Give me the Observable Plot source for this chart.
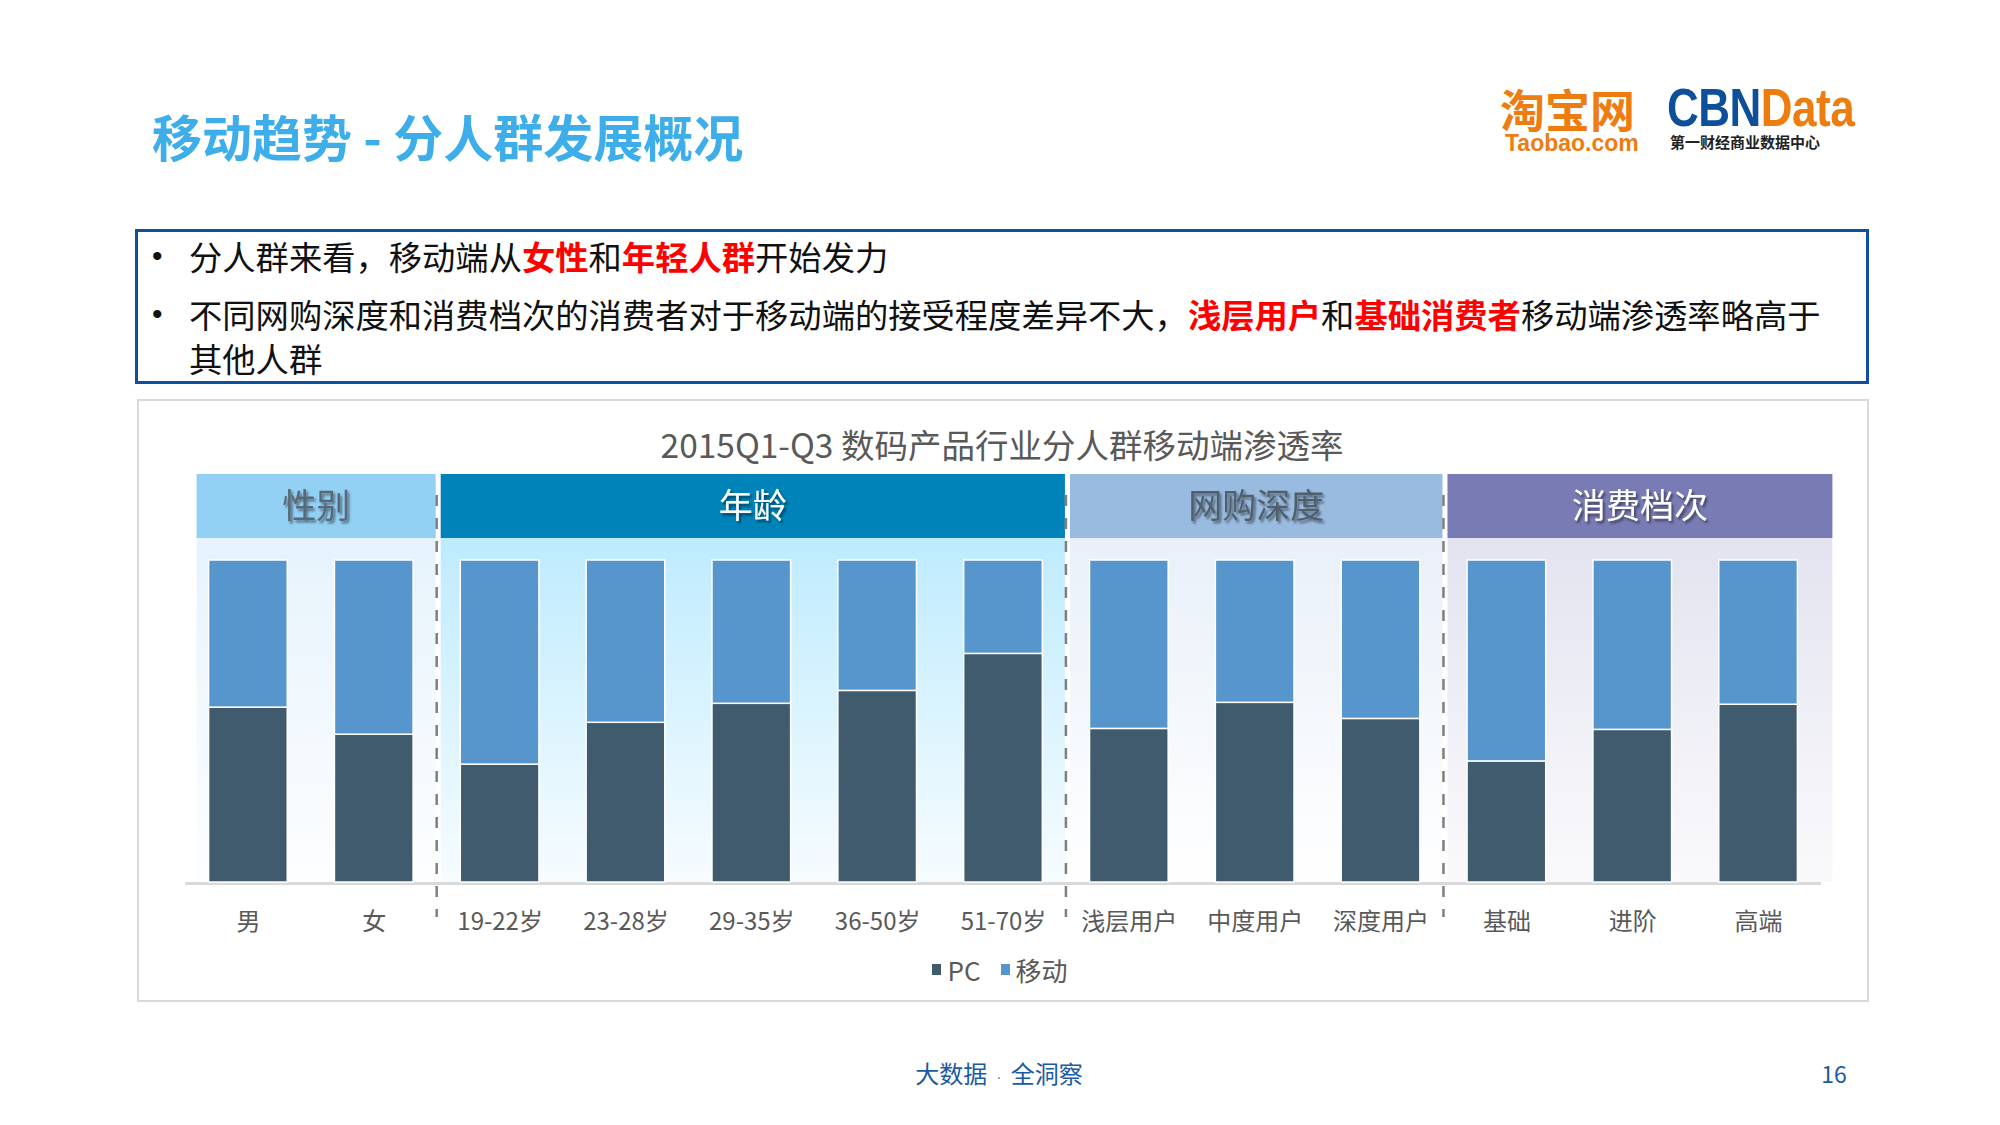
<!DOCTYPE html>
<html>
<head>
<meta charset="utf-8">
<script src="https://cdn.jsdelivr.net/npm/d3@7"></script>
<script src="https://cdn.jsdelivr.net/npm/@observablehq/plot@0.6"></script>
<style>
html,body{margin:0;padding:0;background:#fff;}
body{width:2000px;height:1125px;position:relative;overflow:hidden;font-family:"Noto Sans CJK SC","Noto Sans",sans-serif;}
.abs{position:absolute;white-space:nowrap;}
#title{left:152px;top:103px;font-size:50px;line-height:64px;font-weight:700;color:#3DAEE9;}
#logo1{left:1500px;top:87px;color:#EE7D11;font-weight:700;}
#logo1 .t1{display:block;font-size:45px;line-height:44px;}
#logo1 .t2{display:block;margin-top:2px;margin-left:5px;font-size:23px;line-height:20px;font-family:"Liberation Sans",Arial,sans-serif;}
#logo2{left:1667px;top:88px;font-weight:700;}
#logo2 .c1{display:block;font-size:44px;line-height:40px;font-family:"Liberation Sans",Arial,sans-serif;transform:scaleY(1.2);transform-origin:0 50%;letter-spacing:-0.5px;}
#logo2 .b{color:#0D4F98;} #logo2 .o{color:#EE7D11;}
#logo2 .c2{display:block;margin-top:6px;margin-left:3px;font-size:15px;line-height:16px;color:#222;}
#textbox{left:135px;top:229px;width:1734px;height:155px;border:3px solid #0E509C;box-sizing:border-box;}
.bl{font-size:33.3px;line-height:44px;color:#111;}
.dot{left:152px;font-size:30px;line-height:44px;color:#111;font-family:"Liberation Sans",Arial,sans-serif;}
.r{color:#FF0000;font-weight:700;}
#chartbox{left:137px;top:399px;width:1732px;height:603px;border:2px solid #D9D9D9;box-sizing:border-box;}
#ctitle{left:0;width:2004px;text-align:center;top:422px;font-size:33.5px;line-height:44px;color:#595959;}
#plotwrap{left:0;top:400px;}
#legend{left:0;width:2020px;top:951px;}
#legend *{font-size:26px !important;font-family:"Noto Sans CJK SC","Noto Sans",sans-serif !important;color:#595959 !important;}
#legend div{justify-content:center !important;display:flex !important;align-items:center !important;margin:0 !important;}
#legend svg{margin-right:6px !important;}
#legend span{margin-right:20px !important;display:inline-flex !important;align-items:center !important;}
#footer{left:0;width:1998px;text-align:center;top:1056px;font-size:24px;line-height:34px;color:#1A5BA4;}
#footer .md{font-family:"Liberation Sans",Arial,sans-serif;color:#7F7F7F;font-size:16px;margin:0 9px;}
#page{left:1734px;width:200px;text-align:center;top:1056px;font-size:23px;line-height:34px;color:#1A5BA4;}
</style>
</head>
<body>
<div class="abs" id="title">移动趋势 - 分人群发展概况</div>
<div class="abs" id="logo1"><span class="t1">淘宝网</span><span class="t2">Taobao.com</span></div>
<div class="abs" id="logo2"><span class="c1"><span class="b">CBN</span><span class="o">Data</span></span><span class="c2">第一财经商业数据中心</span></div>

<div class="abs" id="textbox"></div>
<div class="abs dot" style="top:234px;">•</div>
<div class="abs bl" style="left:189px;top:234px;">分人群来看，移动端从<span class="r">女性</span>和<span class="r">年轻人群</span>开始发力</div>
<div class="abs dot" style="top:292px;">•</div>
<div class="abs bl" style="left:189px;top:292px;">不同网购深度和消费档次的消费者对于移动端的接受程度差异不大，<span class="r">浅层用户</span>和<span class="r">基础消费者</span>移动端渗透率略高于</div>
<div class="abs bl" style="left:189px;top:336px;">其他人群</div>

<div class="abs" id="chartbox"></div>
<div class="abs" id="ctitle"></div>
<div class="abs" id="plotwrap"></div>
<div class="abs" id="legend"></div>

<div class="abs" id="footer">大数据<span class="md">·</span>全洞察</div>
<div class="abs" id="page">16</div>

<script>
const FONT = '"Noto Sans CJK SC","Noto Sans",sans-serif';

// ---- data ----
const chartTitle = "2015Q1-Q3 数码产品行业分人群移动端渗透率";
const categories = ["男","女","19-22岁","23-28岁","29-35岁","36-50岁","51-70岁","浅层用户","中度用户","深度用户","基础","进阶","高端"];
const categoryGroup = ["性别","性别","年龄","年龄","年龄","年龄","年龄","网购深度","网购深度","网购深度","消费档次","消费档次","消费档次"];
const groupNames = ["性别","年龄","网购深度","消费档次"];
const seriesNames = ["PC","移动"];
const pcShare     = [54.3,45.9,36.6,49.6,55.5,59.5,71.0,47.7,55.8,50.8,37.6,47.4,55.2];
const mobileShare = [45.7,54.1,63.4,50.4,44.5,40.5,29.0,52.3,44.2,49.2,62.4,52.6,44.8];

// ---- styles ----
const seriesColors = ["#415B6E","#5796CC"];
const headerFill = ["#92D0F4","#0083B8","#9ABBE0","#797CB4"];
const headerText = ["#5A6875","#FFFFFF","#4F5F6C","#FFFFFF"];
const bgTop = ["#E6F3FC","#BEEBFE","#E9F0F9","#E3E3F0"];
const bgBottom = ["#FDFEFF","#F7FCFF","#FFFFFF","#FAFAFC"];

document.getElementById("ctitle").textContent = chartTitle;

const rows = [];
categories.forEach((c,i) => rows.push({category: c, series: seriesNames[0], value: pcShare[i]}));
categories.forEach((c,i) => rows.push({category: c, series: seriesNames[1], value: mobileShare[i]}));

const chart = Plot.plot({
  width: 2000,
  height: 540,
  marginLeft: 185,
  marginRight: 179,
  marginTop: 160,
  marginBottom: 58,
  style: {background: "transparent", fontFamily: FONT, fontSize: "24px", color: "#595959", overflow: "visible"},
  x: {domain: categories, paddingInner: 0.375, paddingOuter: 0.1875, round: false, tickSize: 0, tickPadding: 30, label: null},
  y: {domain: [0, 100], axis: null},
  color: {domain: seriesNames, range: seriesColors},
  marks: [
    Plot.ruleY([0], {stroke: "#D9D9D9", strokeWidth: 3, dy: 1}),
    Plot.barY(rows, {x: "category", y: "value", fill: "series", stroke: "white", strokeWidth: 1.5})
  ]
});
document.getElementById("plotwrap").appendChild(chart);

// ---- decorations positioned through the plot's scales ----
const svgSel = d3.select(chart);
const sx = chart.scale("x"), sy = chart.scale("y");
const X = c => sx.apply(c);
const nCat = categories.length;
const bandStep = X(categories[1]) - X(categories[0]);
const bw = sx.bandwidth != null ? sx.bandwidth : bandStep * 0.625;
const Y = v => sy.apply(v);
const yTop = Y(100), yBase = Y(0);
const headerTop = yTop - 86, headerBottom = yTop - 22;

const seps = [];
for (let i = 1; i < nCat; i++) if (categoryGroup[i] !== categoryGroup[i-1]) seps.push((X(categories[i-1]) + bw + X(categories[i])) / 2);

const spans = groupNames.map((g, k) => {
  const idx = categories.map((c, i) => i).filter(i => categoryGroup[i] === g);
  const f = idx[0], l = idx[idx.length - 1];
  const left = f === 0 ? X(categories[f]) - 12 : seps[k-1] + 4;
  const right = l === nCat - 1 ? X(categories[l]) + bw + 35 : seps[k] - 1;
  return {g, k, left, right};
});

const bgLayer = svgSel.insert("g", ":first-child");
const defs = svgSel.insert("defs", ":first-child");
groupNames.forEach((g, k) => {
  const lg = defs.append("linearGradient").attr("id", "bg" + k).attr("x1", 0).attr("y1", 0).attr("x2", 0).attr("y2", 1);
  lg.append("stop").attr("offset", "0%").attr("stop-color", bgTop[k]);
  lg.append("stop").attr("offset", "100%").attr("stop-color", bgBottom[k]);
});
defs.append("filter").attr("id", "tshadow").attr("x", "-20%").attr("y", "-30%").attr("width", "140%").attr("height", "160%")
  .append("feDropShadow").attr("dx", 2).attr("dy", 2.5).attr("stdDeviation", 1.2).attr("flood-color", "#000").attr("flood-opacity", 0.45);

spans.forEach(s => {
  bgLayer.append("rect").attr("x", s.left).attr("y", headerBottom).attr("width", s.right - s.left).attr("height", yBase - headerBottom).attr("fill", `url(#bg${s.k})`);
});

const decoLayer = svgSel.append("g");
spans.forEach(s => {
  decoLayer.append("rect").attr("x", s.left).attr("y", headerTop).attr("width", s.right - s.left).attr("height", headerBottom - headerTop).attr("fill", headerFill[s.k]);
  decoLayer.append("text").attr("x", (s.left + s.right) / 2).attr("y", (headerTop + headerBottom) / 2).attr("dy", "0.36em")
    .attr("text-anchor", "middle").attr("fill", headerText[s.k]).style("font-size", "34px").style("font-family", FONT)
    .attr("filter", "url(#tshadow)").text(s.g);
});
seps.forEach(x => {
  decoLayer.append("line").attr("x1", x).attr("x2", x).attr("y1", yTop - 65).attr("y2", yBase + 35)
    .attr("stroke", "#7F7F7F").attr("stroke-width", 2.5).attr("stroke-dasharray", "11,12");
});

// legend
const leg = chart.legend("color", {swatchWidth: 9, swatchHeight: 11});
document.getElementById("legend").appendChild(leg);
</script>
</body>
</html>
